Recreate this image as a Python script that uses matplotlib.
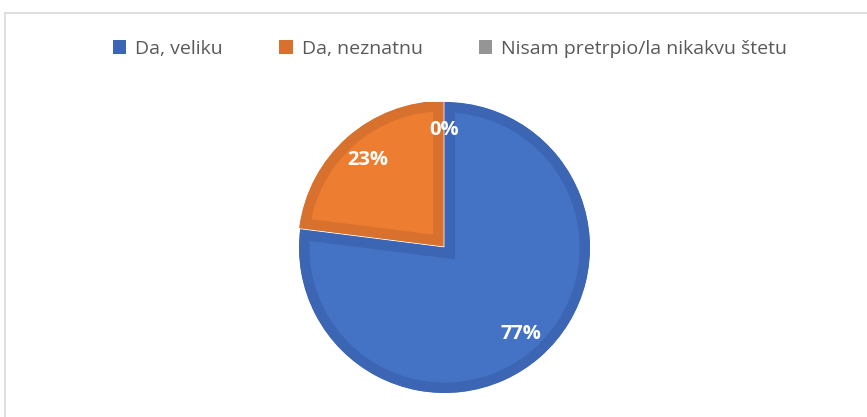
import matplotlib.pyplot as plt
from matplotlib.patches import Patch
from matplotlib.lines import Line2D

# data
labels = ['Da, veliku', 'Da, neznatnu', 'Nisam pretrpio/la nikakvu štetu']
values = [77, 23, 0]
fill_colors = ['#4472C4', '#ED7D31', '#A5A5A5']
edge_colors = ['#3C66B3', '#D7712D', '#959595']

W, H = 867, 417
fig = plt.figure(figsize=(W / 100, H / 100), dpi=100)

# chart frame (light grey border)
fig.add_artist(Line2D([5 / W, 5 / W], [0, 1 - 13 / H], color='#D9D9D9', lw=1.2))
fig.add_artist(Line2D([5 / W, 1], [1 - 13 / H, 1 - 13 / H], color='#D9D9D9', lw=1.2))

# pie axes: centre (445, 247), radius ~145 px
cx, cy, r = 444.5, 247.5, 145.5
ax = fig.add_axes([(cx - r) / W, (H - cy - r) / H, 2 * r / W, 2 * r / H])

wedges, texts, autotexts = ax.pie(
    values, colors=fill_colors, startangle=90, counterclock=False,
    explode=[0, 0.01, 0], autopct='%1.0f%%', pctdistance=0.79,
    textprops=dict(color='white', fontsize=14.5, fontweight='bold', family='Open Sans'),
    radius=1.0)

ax.set_xlim(-1, 1)
ax.set_ylim(-1, 1)
ax.set_aspect('equal')
ax.axis('off')

# darker inset border on every slice
for w, ec, v in zip(wedges, edge_colors, values):
    if v == 0:
        w.set_visible(False)
        continue
    w.set_edgecolor(ec)
    w.set_linewidth(15)
    w.set_clip_on(True)
    w.set_clip_path(w)

autotexts[2].set_position((0, 0.81))

handles = [Patch(facecolor=c, edgecolor='none') for c in edge_colors]
fig.legend(handles, labels, loc='center', bbox_to_anchor=(450 / W, 1 - 49 / H),
           ncol=3, frameon=False, handlelength=0.7, handleheight=0.7,
           handletextpad=0.45, columnspacing=2.9, labelcolor='#595959',
           prop=dict(family='Open Sans', size=14))

fig.savefig('out.png', dpi=100)
